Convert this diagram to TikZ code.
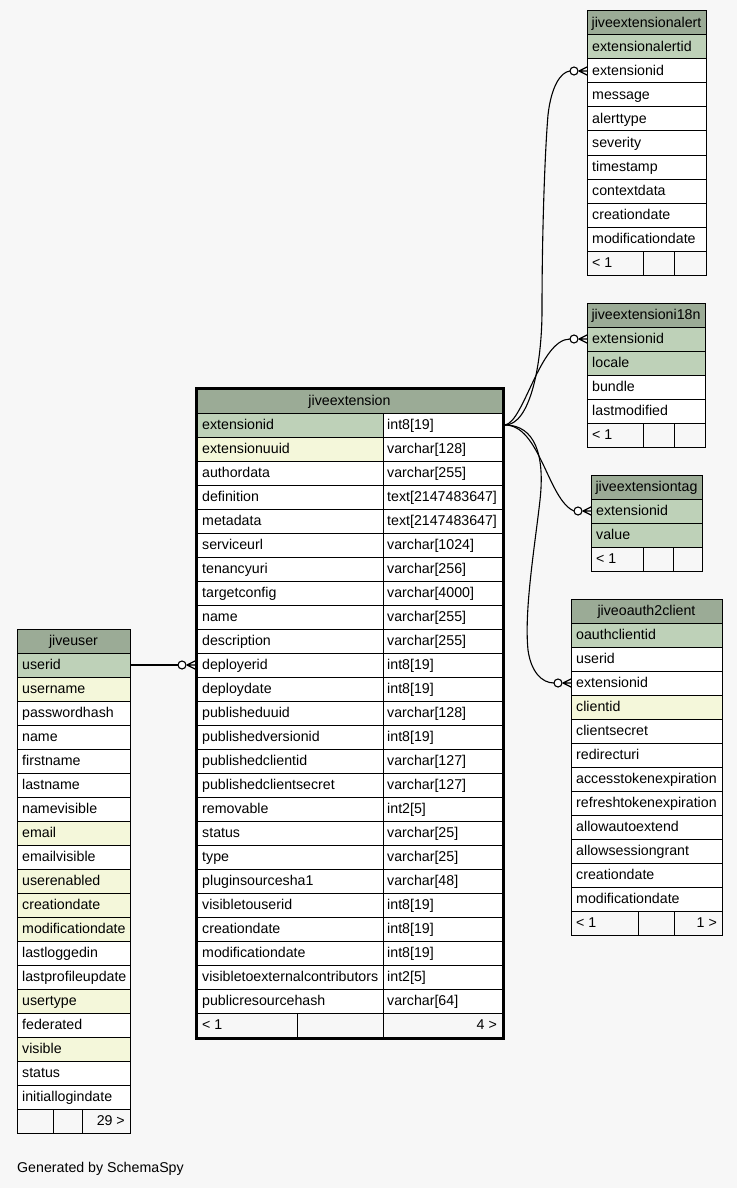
\documentclass[tikz,border=0pt]{standalone}
\usepackage{fontspec}
\setmainfont{Liberation Sans}
\definecolor{bg}{HTML}{F7F7F7}
\definecolor{hd}{HTML}{9BAB96}
\definecolor{pk}{HTML}{BED1B8}
\definecolor{ix}{HTML}{F4F7DA}
\definecolor{wh}{HTML}{FFFFFF}
\newcommand\dbtable[6]{%
  \draw[cell,fill=hd] (#2,#4) rectangle (#3,#4+24);
  \node[txt,anchor=base] (#1-h) at ({(#2+#3)/2},#4+16.5) {#5};
  \foreach[count=\i] \t/\f in {#6} {
    \draw[cell,fill=\f] (#2,#4+24*\i) rectangle (#3,#4+24*\i+24);
    \node[txt] (#1-\i) at (#2+5,#4+24*\i+16.5) {\t};
  }
}
\newcommand\dbfoot[8]{%
  \draw[cell,fill=bg] (#2,#6) rectangle (#3,#6+24);
  \draw[cell,fill=bg] (#3,#6) rectangle (#4,#6+24);
  \draw[cell,fill=bg] (#4,#6) rectangle (#5,#6+24);
  \node[txt] (#1-fl) at (#2+5,#6+16.5) {#7};
  \node[txt,anchor=base east] (#1-fr) at (#5-5,#6+16.5) {#8};
}
\newcommand\crowin[3]{%
  \draw[conn,fill=wh] (#2-13,#3) circle[radius=4pt];
  \draw[conn,line width=1.3pt] (#2-8,#3) -- (#2,#3-4) (#2-8,#3) -- (#2,#3) (#2-8,#3) -- (#2,#3+4);
  \coordinate (#1) at (#2-17,#3);
}
\begin{document}
\begin{tikzpicture}[x=1pt,y=-1pt,
  font=\fontsize{14.2}{17}\selectfont,
  cell/.style={draw=black,line width=1pt},
  txt/.style={inner sep=0pt,anchor=base west},
  conn/.style={draw=black,line width=1.1pt}]
\fill[bg] (0,0) rectangle (737,1188);
\useasboundingbox (0,0) rectangle (737,1188);

% jiveuser
\dbtable{u}{17}{130}{629}{jiveuser}{userid/pk,username/ix,passwordhash/wh,name/wh,firstname/wh,lastname/wh,namevisible/wh,email/ix,emailvisible/wh,userenabled/ix,creationdate/ix,modificationdate/ix,lastloggedin/wh,lastprofileupdate/wh,usertype/ix,federated/wh,visible/ix,status/wh,initiallogindate/wh}
\dbfoot{u}{17}{53}{82}{130}{1109}{}{29 >}

% jiveextension
\draw[cell,fill=hd] (197,389) rectangle (502,413);
\node[txt,anchor=base] (e-h) at (349.5,405.5) {jiveextension};
\foreach[count=\i from 0] \t/\y/\f in {extensionid/int8[19]/pk,extensionuuid/varchar[128]/ix,authordata/varchar[255]/wh,definition/text[2147483647]/wh,metadata/text[2147483647]/wh,serviceurl/varchar[1024]/wh,tenancyuri/varchar[256]/wh,targetconfig/varchar[4000]/wh,name/varchar[255]/wh,description/varchar[255]/wh,deployerid/int8[19]/wh,deploydate/int8[19]/wh,publisheduuid/varchar[128]/wh,publishedversionid/int8[19]/wh,publishedclientid/varchar[127]/wh,publishedclientsecret/varchar[127]/wh,removable/int2[5]/wh,status/varchar[25]/wh,type/varchar[25]/wh,pluginsourcesha1/varchar[48]/wh,visibletouserid/int8[19]/wh,creationdate/int8[19]/wh,modificationdate/int8[19]/wh,visibletoexternalcontributors/int2[5]/wh,publicresourcehash/varchar[64]/wh} {
  \draw[cell,fill=\f] (197,413+24*\i) rectangle (383,437+24*\i);
  \draw[cell,fill=wh] (383,413+24*\i) rectangle (502,437+24*\i);
  \node[txt] (e-\i) at (202,429.5+24*\i) {\t};
  \node[txt] (e-t\i) at (387,429.5+24*\i) {\y};
}
\dbfoot{e}{197}{297}{383}{502}{1013}{< 1}{4 >}
\draw[black,line width=3pt] (196.5,388.5) rectangle (503.5,1038.5);

% jiveextensionalert
\dbtable{a}{587}{706}{11}{jiveextensionalert}{extensionalertid/pk,extensionid/wh,message/wh,alerttype/wh,severity/wh,timestamp/wh,contextdata/wh,creationdate/wh,modificationdate/wh}
\dbfoot{a}{587}{643}{674}{706}{251}{< 1}{}

% jiveextensioni18n
\dbtable{n}{587}{705}{303}{jiveextensioni18n}{extensionid/pk,locale/pk,bundle/wh,lastmodified/wh}
\dbfoot{n}{587}{643}{674}{705}{423}{< 1}{}

% jiveextensiontag
\dbtable{g}{591}{702}{475}{jiveextensiontag}{extensionid/pk,value/pk}
\dbfoot{g}{591}{643}{673}{702}{547}{< 1}{}

% jiveoauth2client
\dbtable{o}{571}{722}{599}{jiveoauth2client}{oauthclientid/pk,userid/wh,extensionid/wh,clientid/ix,clientsecret/wh,redirecturi/wh,accesstokenexpiration/wh,refreshtokenexpiration/wh,allowautoextend/wh,allowsessiongrant/wh,creationdate/wh,modificationdate/wh}
\dbfoot{o}{571}{638}{674}{722}{911}{< 1}{1 >}

% connectors
\coordinate (src) at (505,425);
\coordinate (usrc) at (130,665);
\crowin{depIn}{195}{665}
\crowin{alertIn}{587}{71}
\crowin{i18nIn}{587}{339}
\crowin{tagIn}{591}{511}
\crowin{oauthIn}{571}{683}

\draw[conn] (usrc) -- (depIn);
\draw[conn] (src) .. controls (530,425) and (542,365) .. (542,310)
  .. controls (542,230) and (545,150) .. (548,115)
  .. controls (551,88) and (560,72) .. (alertIn);
\draw[conn] (src) .. controls (524,422) and (540,339) .. (i18nIn);
\draw[conn] (src) .. controls (540,425) and (548,500) .. (tagIn);
\draw[conn] (src) .. controls (535,425) and (545,455) .. (540,500)
  .. controls (535,545) and (524,610) .. (528,650)
  .. controls (531,672) and (542,683) .. (oauthIn);

\node[txt] (gen) at (17,1172) {Generated by SchemaSpy};
\end{tikzpicture}
\end{document}
